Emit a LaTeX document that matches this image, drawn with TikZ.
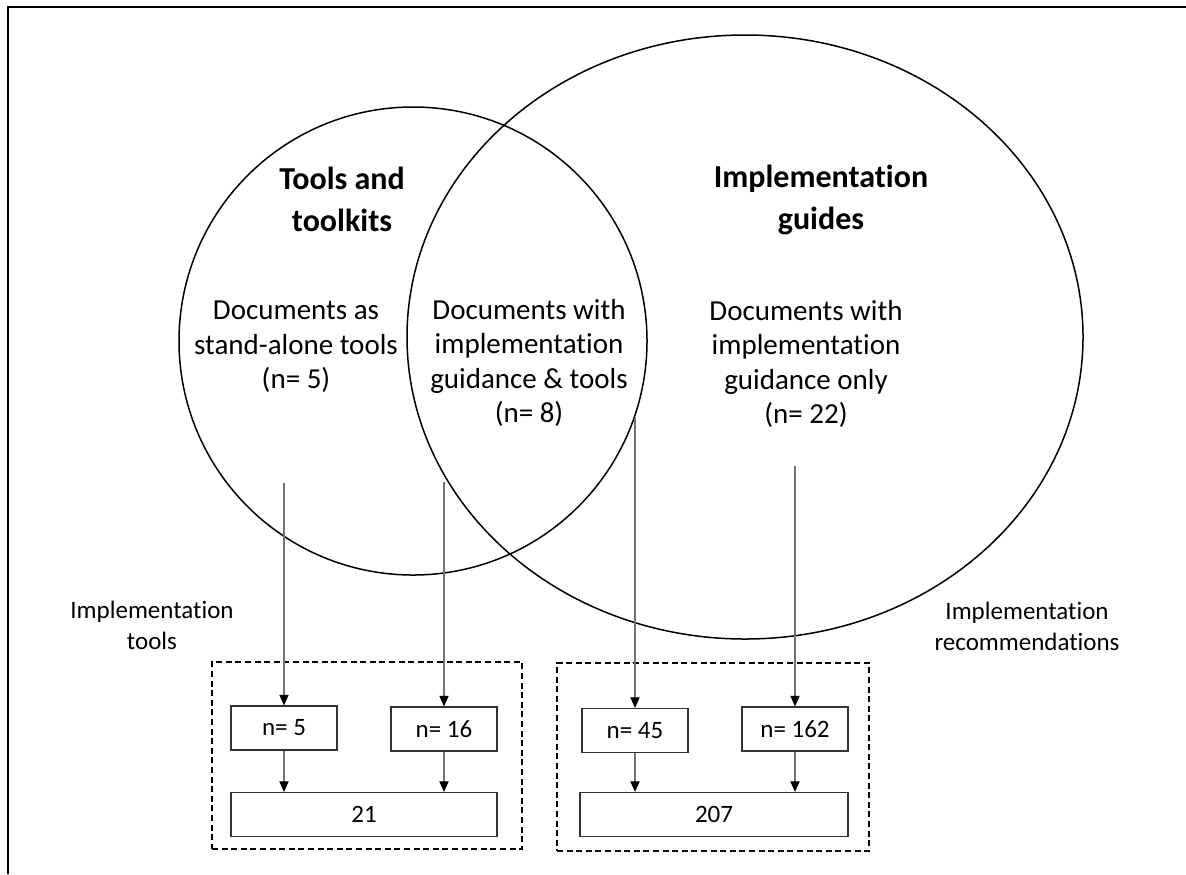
\documentclass[tikz,border=0pt]{standalone}
\usepackage{fontspec}
\setmainfont{Carlito}[Ligatures=NoCommon]
\usepackage{xcolor}
\usepackage{tikz}
\usetikzlibrary{arrows.meta,shapes.geometric}

\begin{document}
\begin{tikzpicture}[
x=0.5pt,y=-0.5pt,
set/.style={draw, line width=0.75pt, inner sep=0pt},
title/.style={align=center, font=\fontsize{16}{21}\selectfont\bfseries},
txt/.style={align=center, font=\fontsize{14.5}{17.25}\selectfont},
lbl/.style={align=center, font=\fontsize{12.5}{15.5}\selectfont},
cnt/.style={rectangle, draw=black!80, line width=0.6pt, minimum width=53pt, minimum height=22pt, inner sep=0pt, font=\fontsize{12.5}{14}\selectfont},
sum/.style={cnt, minimum width=133pt},
grp/.style={rectangle, draw, dash pattern=on 3pt off 1.8pt, line width=0.85pt, inner sep=0pt},
link/.style={-{Triangle[width=4.6pt,length=5.3pt,color=black]}, line width=0.6pt, black!55},
]
\useasboundingbox (0,0) rectangle (1186,874);

%frame
\draw[line width=1pt] (8,874) -- (8,7) -- (1186,7);

%the two sets
\node(tools)[set, circle, minimum size=234pt] at (413,341){};
\node(guides)[set, ellipse, minimum width=338pt, minimum height=302pt] at (745,337){};

\node(ttl1)[title] at (342,199){Tools and\\toolkits};
\node(ttl2)[title] at (821,200){Implementation\\guides};

\node(only1)[txt] at (296,347){Documents as\\stand-alone tools\\(n= 5)};
\node(both)[txt]  at (529,363){Documents with\\implementation\\guidance \& tools\\(n= 8)};
\node(only2)[txt] at (806,364){Documents with\\implementation\\guidance only\\(n= 22)};

\node(lbl1)[lbl] at (152,625){Implementation\\tools};
\node(lbl2)[lbl] at (1027,626){Implementation\\recommendations};

%counts
\node(g1)[grp, minimum width=155pt, minimum height=93.5pt] at (367,755.5){};
\node(g2)[grp, minimum width=156pt, minimum height=94pt] at (713,757){};

\node(n5)[cnt]   at (284,728){n= 5};
\node(n16)[cnt]  at (444,729){n= 16};
\node(n45)[cnt]  at (635,730.5){n= 45};
\node(n162)[cnt] at (795,729){n= 162};
\node(b21)[sum]  at (364,814.5){21};
\node(b207)[sum, minimum width=134pt] at (714,814.5){207};

\coordinate(s1) at (284,483);
\coordinate(s2) at (444,482);
\coordinate(s3) at (635,418);
\coordinate(s4) at (795,466);

\draw[link] (s1) -- (n5.north);
\draw[link] (s2) -- (n16.north);
\draw[link] (s3) -- (n45.north);
\draw[link] (s4) -- (n162.north);
\draw[link] (n5.south) -- (n5.south |- b21.north);
\draw[link] (n16.south) -- (n16.south |- b21.north);
\draw[link] (n45.south) -- (n45.south |- b207.north);
\draw[link] (n162.south) -- (n162.south |- b207.north);

\end{tikzpicture}
\end{document}
